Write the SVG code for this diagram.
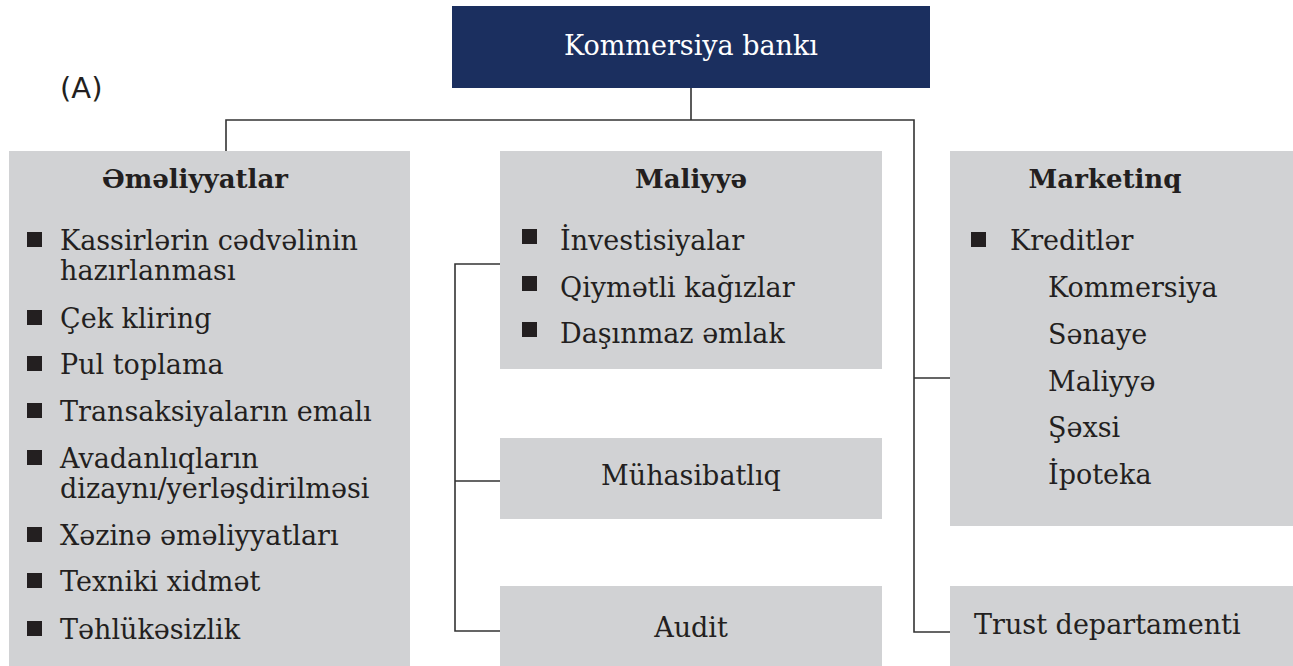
<svg xmlns="http://www.w3.org/2000/svg" width="1293" height="666" viewBox="0 0 1293 666">
<style>
.box{fill:#d1d2d4}
.top{fill:#1b2f5f}
.t{font-family:"DejaVu Serif","Liberation Serif",serif;font-size:27px;fill:#231f20}
.h{font-family:"DejaVu Serif","Liberation Serif",serif;font-size:26px;font-weight:bold;fill:#231f20;text-anchor:middle}
.c{text-anchor:middle}
.w{fill:#ffffff}
.b{fill:#231f20}
.ln{fill:none;stroke:#333333;stroke-width:1.6}
</style>
<rect width="1293" height="666" fill="#ffffff"/>
<g id="connectors">
<path class="ln" d="M691 88V120M226 151V120H914V632H950M914 378H950"/>
<path class="ln" d="M500 264H455V631H500M455 481H500"/>
</g>
<text x="60" y="98" style="font-family:'DejaVu Sans','Liberation Sans',sans-serif;font-size:29px;fill:#231f20">(A)</text>
<g id="bank">
<rect class="top" x="452" y="6" width="478" height="82"/>
<text class="t c w" x="691" y="55">Kommersiya bankı</text>
</g>
<g id="emeliyyatlar">
<rect class="box" x="9" y="151" width="401" height="515"/>
<text class="h" x="195" y="188">Əməliyyatlar</text>
<rect class="b" x="27" y="232" width="15" height="15"/>
<text class="t" x="60" y="250">Kassirlərin cədvəlinin</text>
<text class="t" x="60" y="280">hazırlanması</text>
<rect class="b" x="27" y="310" width="15" height="15"/>
<text class="t" x="60" y="328">Çek kliring</text>
<rect class="b" x="27" y="356" width="15" height="15"/>
<text class="t" x="60" y="374">Pul toplama</text>
<rect class="b" x="27" y="403" width="15" height="15"/>
<text class="t" x="60" y="421">Transaksiyaların emalı</text>
<rect class="b" x="27" y="450" width="15" height="15"/>
<text class="t" x="60" y="468">Avadanlıqların</text>
<text class="t" x="60" y="498">dizaynı/yerləşdirilməsi</text>
<rect class="b" x="27" y="527" width="15" height="15"/>
<text class="t" x="60" y="545">Xəzinə əməliyyatları</text>
<rect class="b" x="27" y="573" width="15" height="15"/>
<text class="t" x="60" y="591">Texniki xidmət</text>
<rect class="b" x="27" y="621" width="15" height="15"/>
<text class="t" x="60" y="639">Təhlükəsizlik</text>
</g>
<g id="maliyye">
<rect class="box" x="500" y="151" width="382" height="218"/>
<text class="h" x="691" y="188">Maliyyə</text>
<rect class="b" x="522" y="229" width="15" height="15"/>
<text class="t" x="560" y="250">İnvestisiyalar</text>
<rect class="b" x="522" y="276" width="15" height="15"/>
<text class="t" x="560" y="297">Qiymətli kağızlar</text>
<rect class="b" x="522" y="322" width="15" height="15"/>
<text class="t" x="560" y="343">Daşınmaz əmlak</text>
</g>
<g id="muhasibatliq">
<rect class="box" x="500" y="438" width="382" height="81"/>
<text class="t c" x="691" y="485">Mühasibatlıq</text>
</g>
<g id="audit">
<rect class="box" x="500" y="586" width="382" height="80"/>
<text class="t c" x="691" y="637">Audit</text>
</g>
<g id="marketinq">
<rect class="box" x="950" y="151" width="343" height="375"/>
<text class="h" x="1105" y="188">Marketinq</text>
<rect class="b" x="971" y="232" width="15" height="15"/>
<text class="t" x="1010" y="250">Kreditlər</text>
<text class="t" x="1048" y="297">Kommersiya</text>
<text class="t" x="1048" y="344">Sənaye</text>
<text class="t" x="1048" y="391">Maliyyə</text>
<text class="t" x="1048" y="437">Şəxsi</text>
<text class="t" x="1048" y="484">İpoteka</text>
</g>
<g id="trust">
<rect class="box" x="950" y="586" width="343" height="80"/>
<text class="t" x="974" y="634">Trust departamenti</text>
</g>
</svg>
